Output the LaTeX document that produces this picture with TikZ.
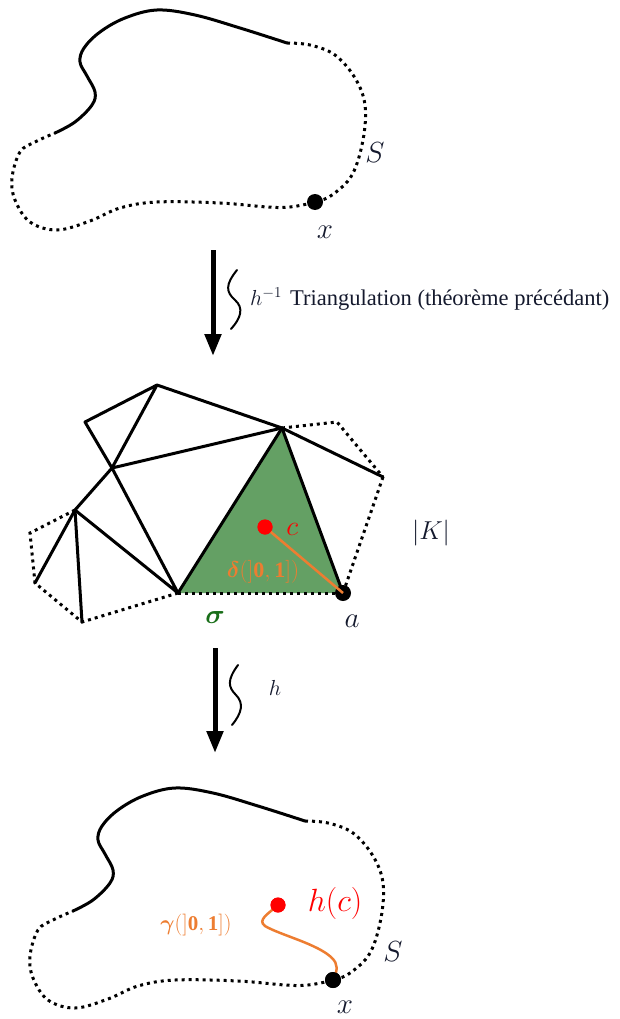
\documentclass[tikz,border=0pt]{standalone}
\usepackage{amsmath}
\usepackage{fontspec}
\setmainfont{Liberation Serif}
\usetikzlibrary{arrows.meta}
\definecolor{simgreen}{RGB}{100,160,100}
\definecolor{sigmagreen}{RGB}{25,110,25}
\definecolor{pathorange}{RGB}{237,125,49}
\definecolor{labelnavy}{RGB}{20,25,45}
\newcommand\deltalabel{$\boldsymbol{\delta}(\mathclose{]}\mathbf{0},\mathbf{1}\mathclose{]})$}
\newcommand\gammalabel{$\boldsymbol{\gamma}(\mathclose{]}\mathbf{0},\mathbf{1}\mathclose{]})$}
\tikzset{
  solidc/.style={line width=3pt, line cap=round},
  dotc/.style={line width=3pt, dash pattern=on 3pt off 4pt},
  edge/.style={line width=3pt, line join=round, line cap=round},
  bigarrow/.style={line width=5pt, -{Triangle[length=22pt,width=16pt]}},
  squig/.style={line width=2pt, line cap=round},
  bdot/.style={circle, fill=black, inner sep=0pt, minimum size=16pt},
  rdot/.style={circle, fill=red, inner sep=0pt, minimum size=15pt},
  mathlbl/.style={inner sep=0pt, font=\fontsize{20}{24}\selectfont},
  lbl/.style={mathlbl, text=labelnavy, scale=1.4},
  surface/.pic={
    \draw[solidc] plot[smooth, tension=0.6] coordinates {(55,133) (75,122) (92,105) (95,92) (87,76) (80,62) (84,48) (100,32) (125,18) (157,10) (195,15) (240,28) (287,43)};
    \draw[dotc] plot[smooth, tension=0.6] coordinates {(287,43) (310,45) (335,55) (355,78) (365,105) (363,140) (352,175) (332,195) (315,202) (290,207) (267,207) (220,203) (157,202) (120,208) (90,221) (57,230) (30,222) (15,200) (12,178) (20,152) (35,142) (55,133)};
  }
}
\begin{document}
\begin{tikzpicture}[x=1pt,y=-1pt]
\useasboundingbox (0,0) rectangle (619,1019);

% ---------- top surface S ----------
\pic at (0,0) {surface};
\node[bdot] (x1) at (315,202) {};
\node[lbl] (xl1) at (325,232) {$x$};
\node[lbl] (S1) at (375,153) {$S$};

% ---------- first arrow ----------
\coordinate (a1s) at (213,250);
\coordinate (a1e) at (213,356);
\draw[bigarrow] (a1s) -- (a1e);
\draw[squig] (237,270) .. controls (225,285) and (226,292) .. (235,300) .. controls (244,308) and (241,318) .. (231,329);
\node[mathlbl, anchor=base west, text=labelnavy, scale=1.05] (hinv) at (250,305) {$h^{-1}$};
\node[inner sep=0pt, anchor=base west, text=labelnavy, font=\fontsize{22.5}{26}\selectfont] (tri) at (290,305) {Triangulation (théorème précédant)};

% ---------- triangulation |K| ----------
\coordinate (A) at (157,385);
\coordinate (B) at (85,422);
\coordinate (C) at (112,468);
\coordinate (D) at (282,428);
\coordinate (E) at (383,477);
\coordinate (F) at (75,510);
\coordinate (G) at (178,593);
\coordinate (Av) at (343,593);
\coordinate (H) at (35,583);
\coordinate (I) at (82,622);
\coordinate (P) at (337,422);
\coordinate (Q) at (30,533);

\fill[simgreen] (D) -- (G) -- (Av) -- cycle;
\draw[dotc] (D) -- (P) -- (E);
\draw[dotc] (E) -- (Av);
\draw[dotc] (G) -- (Av);
\draw[dotc] (G) -- (I) -- (H) -- (Q) -- (F);
\draw[edge] (A) -- (B) -- (C) -- (A) -- (D) -- (C) -- (F) -- (G) -- (C);
\draw[edge] (F) -- (H);
\draw[edge] (F) -- (I);
\draw[edge] (D) -- (G);
\draw[edge] (D) -- (Av);
\draw[edge] (D) -- (E);

\node[bdot] (av) at (Av) {};
\node[rdot] (cpt) at (265,527) {};
\draw[pathorange, line width=2.5pt] (cpt.center) -- (av.center);
\fill[red] (cpt) circle[radius=7.5pt];
\node[mathlbl, anchor=west, text=red, scale=1.35] (clabel) at (286,529) {$c$};
\node[mathlbl, text=pathorange, scale=1.1] (deltal) at (263,572) {\deltalabel};
\node[mathlbl, text=labelnavy, scale=1.25] (K) at (431,533) {$|K|$};
\node[mathlbl, text=sigmagreen, scale=1.3] (sig) at (215,618) {$\boldsymbol{\sigma}$};
\node[lbl] (alabel) at (352,621) {$a$};

% ---------- second arrow ----------
\coordinate (a2s) at (215,648);
\coordinate (a2e) at (215,753);
\draw[bigarrow] (a2s) -- (a2e);
\draw[squig] (238,665) .. controls (227,680) and (228,687) .. (236,695) .. controls (244,703) and (242,713) .. (232,725);
\node[mathlbl, text=labelnavy, scale=1.05] (hl) at (275,688) {$h$};

% ---------- bottom surface S ----------
\pic at (18,778) {surface};
\node[bdot] (x2) at (333,980) {};
\node[lbl] (xl2) at (345,1007) {$x$};
\node[lbl] (S2) at (393,952) {$S$};
\node[rdot] (hc) at (278,905) {};
\draw[pathorange, line width=2.5pt, line cap=round] (hc.center) .. controls (268,914) and (257,920) .. (265,926) .. controls (280,935) and (318,944) .. (332,958) .. controls (338,964) and (338,970) .. (x2.center);
\fill[red] (hc) circle[radius=7.5pt];
\fill[black] (x2) circle[radius=8pt];
\node[mathlbl, text=red, scale=1.55] (hcl) at (335,903) {$h(c)$};
\node[mathlbl, text=pathorange, scale=1.05] (gl) at (196,925) {\gammalabel};
\end{tikzpicture}
\end{document}
